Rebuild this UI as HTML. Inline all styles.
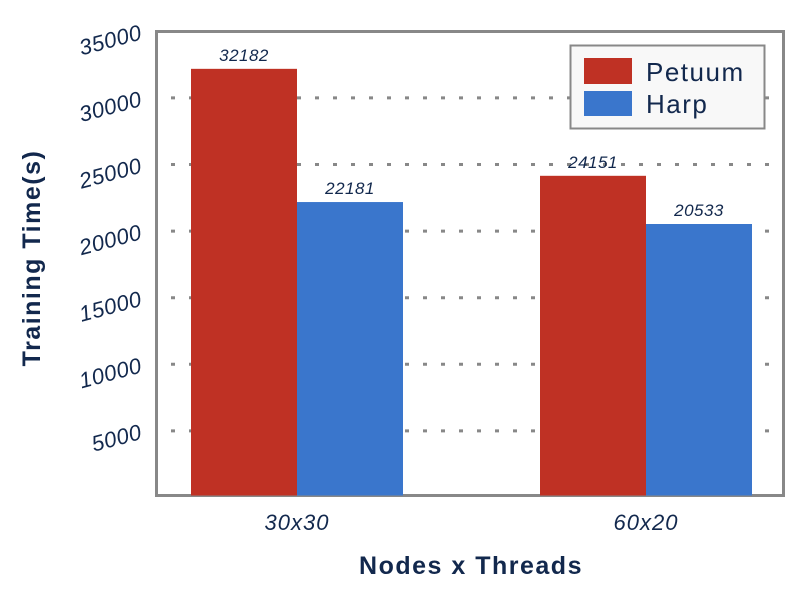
<!DOCTYPE html>
<html><head><meta charset="utf-8"><style>
body{margin:0;background:#fff;}
svg{display:block;font-family:"Liberation Sans","DejaVu Sans",sans-serif;}
</style></head><body>
<svg id="chart" width="800" height="590">
<rect x="156.5" y="31.5" width="627" height="464" fill="#fff" stroke="#888" stroke-width="3"/>
<g id="grid"></g><g id="bars"></g><g id="labels"></g>
<text x="40" y="258" transform="rotate(-90 40 258)" text-anchor="middle" font-size="25" font-weight="bold" letter-spacing="1.5" fill="#12284d">Training Time(s)</text>
<text x="471" y="574" text-anchor="middle" font-size="25" font-weight="bold" letter-spacing="1.5" fill="#12284d">Nodes x Threads</text>
<g>
<rect x="570.5" y="45.5" width="194" height="83" fill="#f8f8f8" stroke="#888" stroke-width="2"/>
<rect x="584" y="58" width="48" height="26" fill="#bf3124"/>
<rect x="584" y="91" width="48" height="25" fill="#3a76cc"/>
<text x="646" y="81" font-size="26" letter-spacing="1.5" fill="#12284d">Petuum</text>
<text x="646" y="113" font-size="26" letter-spacing="1.5" fill="#12284d">Harp</text>
</g>
</svg>
<script>
const categories=["30x30","60x20"];
const petuum=[32182,24151];
const harp=[22181,20533];
const yTicks=[5000,10000,15000,20000,25000,30000,35000];
const NS="http://www.w3.org/2000/svg";
const y0=497.5, pxPer=66.6/5000;
function y(v){return y0-v*pxPer;}
const groupX=[191,540], bw=106;
function mk(tag,attrs,parent){const e=document.createElementNS(NS,tag);for(const k in attrs)e.setAttribute(k,attrs[k]);parent.appendChild(e);return e;}
const grid=document.getElementById('grid'),bars=document.getElementById('bars'),labels=document.getElementById('labels');
yTicks.forEach(t=>{
 if(t<35000){const l=mk('line',{x1:171,x2:783,y1:y(t),y2:y(t),stroke:'#888','stroke-width':3,'stroke-dasharray':'4 14'},grid);
 
 }
 const tx=mk('text',{x:141,y:y(t)+8,'text-anchor':'end','font-size':22,'letter-spacing':0.5,'font-style':'italic',fill:'#12284d',transform:`rotate(-15 141 ${y(t)})`},labels);
 tx.textContent=t;
 
 
});
categories.forEach((c,i)=>{
 [[petuum,'#bf3124','petuum',0],[harp,'#3a76cc','harp',bw]].forEach(([arr,col,nm,off])=>{
  const v=arr[i],x=groupX[i]+off;
  const r=mk('rect',{x:x,y:y(v),width:bw,height:y0-y(v)-2,fill:col},bars);
  
  
  const t=mk('text',{x:x+bw/2,y:y(v)-8,'text-anchor':'middle','font-size':17,'letter-spacing':0.5,'font-style':'italic',fill:'#12284d'},labels);
  t.textContent=v;
  
  
 });
 const t=mk('text',{x:groupX[i]+bw,y:530,'text-anchor':'middle','font-size':22,'letter-spacing':1,'font-style':'italic',fill:'#12284d'},labels);
 t.textContent=c;
 
 
});
</script>
</body></html>
